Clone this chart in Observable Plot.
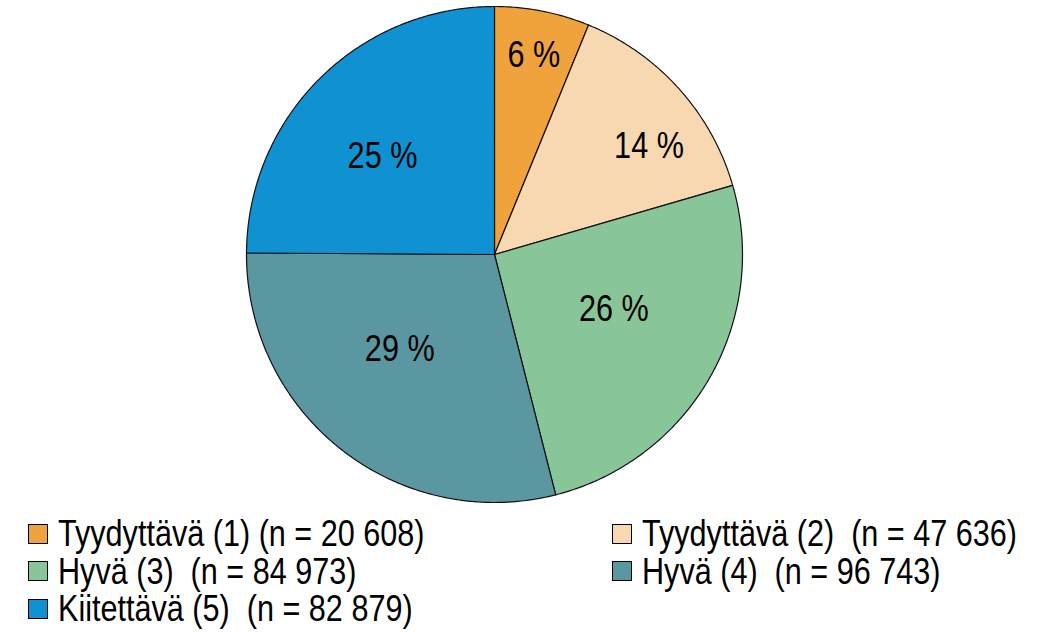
<!DOCTYPE html>
<html>
<head>
<meta charset="utf-8">
<script src="https://cdn.jsdelivr.net/npm/d3@7"></script>
<script src="https://cdn.jsdelivr.net/npm/@observablehq/plot@0.6"></script>
<style>
  html, body { margin: 0; padding: 0; background: #fff; }
  body { width: 1046px; height: 632px; overflow: hidden; font-family: "Liberation Sans", Arial, sans-serif; }
  #legend { display: grid; grid-template-columns: 584px 434px; padding: 9px 0 0 28px; font-size: 36px; line-height: 37.5px; color: #000; }
  .item { display: flex; align-items: center; white-space: pre; }
  .sw { width: 18px; height: 18px; border: 1px solid #000; margin-right: 10px; flex: none; }
  .lt { display: inline-block; transform: scaleX(0.85); transform-origin: 0 50%; }
</style>
</head>
<body>
<div id="chart"></div>
<div id="legend"></div>
<script>
// Data
const categories = ["Tyydyttävä (1)", "Tyydyttävä (2)", "Hyvä (3)", "Hyvä (4)", "Kiitettävä (5)"];
const counts = [20608, 47636, 84973, 96743, 82879];
const legendLabels = [
  "Tyydyttävä (1) (n = 20 608)",
  "Tyydyttävä (2)  (n = 47 636)",
  "Hyvä (3)  (n = 84 973)",
  "Hyvä (4)  (n = 96 743)",
  "Kiitettävä (5)  (n = 82 879)"
];
const colors = ["#F0A23C", "#F8D8B0", "#88C69A", "#5A97A0", "#1092D2"];
// label placement (fraction of radius, angle nudge in degrees) — layout only
const labelRadius = [0.82, 0.76, 0.53, 0.54, 0.60];
const labelNudge = [0, 7, -5, 7, -4];

const total = d3.sum(counts);
const pie = d3.pie().sort(null).value(d => d)(counts);

// Slice outlines as polygons in unit coordinates (angle 0 = top, clockwise)
const pts = [];
pie.forEach((s, i) => {
  const cat = categories[i];
  pts.push({cat, x: 0, y: 0});
  const n = Math.max(2, Math.ceil((s.endAngle - s.startAngle) / (Math.PI / 360)));
  for (let k = 0; k <= n; k++) {
    const a = s.startAngle + (s.endAngle - s.startAngle) * k / n;
    pts.push({cat, x: Math.sin(a), y: Math.cos(a)});
  }
  pts.push({cat, x: 0, y: 0});
});

const labels = pie.map((s, i) => {
  const a = (s.startAngle + s.endAngle) / 2 + labelNudge[i] * Math.PI / 180;
  return {
    x: labelRadius[i] * Math.sin(a),
    y: labelRadius[i] * Math.cos(a),
    text: Math.round(100 * counts[i] / total) + " %"
  };
});

const plot = Plot.plot({
  width: 1046,
  height: 506,
  margin: 0,
  x: {domain: [-1, 1], range: [246, 742], axis: null},
  y: {domain: [-1, 1], range: [502, 6], axis: null},
  color: {domain: categories, range: colors},
  style: {fontFamily: '"Liberation Sans", Arial, sans-serif'},
  marks: [
    Plot.line(pts, {x: "x", y: "y", z: "cat", fill: "cat", stroke: "#111", strokeWidth: 1.2, curve: "linear"}),
    Plot.text(labels, {x: "x", y: "y", text: "text", fontSize: 36, fill: "#000"})
  ]
});
document.getElementById("chart").appendChild(plot);
// condense the label glyphs horizontally (narrow typeface look)
plot.querySelectorAll("text").forEach(t => {
  const len = t.getComputedTextLength();
  if (len > 0) {
    t.setAttribute("textLength", (len * 0.85).toFixed(1));
    t.setAttribute("lengthAdjust", "spacingAndGlyphs");
  }
});

const leg = document.getElementById("legend");
categories.forEach((c, i) => {
  const it = document.createElement("div");
  it.className = "item";
  const sw = document.createElement("span");
  sw.className = "sw";
  sw.style.background = colors[i];
  const t = document.createElement("span");
  t.className = "lt";
  t.textContent = legendLabels[i];
  it.appendChild(sw);
  it.appendChild(t);
  leg.appendChild(it);
});
</script>
</body>
</html>
